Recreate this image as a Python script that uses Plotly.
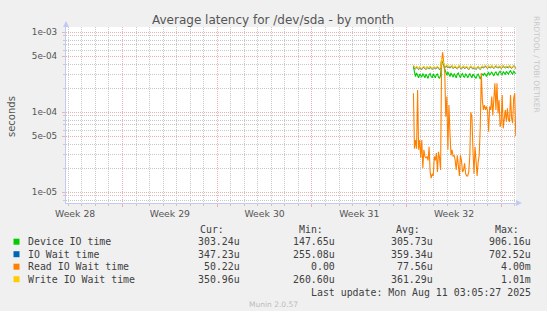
import plotly.graph_objects as go
import pandas as pd

# ---------------- data ----------------
series_names = ["Device IO time", "IO Wait time", "Read IO Wait time", "Write IO Wait time"]
series_colors = ["#00CC00", "#0066B3", "#FF8000", "#FFCC00"]

cur_vals = ["303.24u", "347.23u", "50.22u", "350.96u"]
min_vals = ["147.65u", "255.08u", "0.00", "260.60u"]
avg_vals = ["305.73u", "359.34u", "77.56u", "361.29u"]
max_vals = ["906.16u", "702.52u", "4.00m", "1.01m"]

week_labels = ["Week 28", "Week 29", "Week 30", "Week 31", "Week 32"]
week_mids = ["2025-07-09 12:00", "2025-07-16 12:00", "2025-07-23 12:00", "2025-07-30 12:00", "2025-08-06 12:00"]
week_bounds = ["2025-07-13", "2025-07-20", "2025-07-27", "2025-08-03", "2025-08-10"]
day_lines = ["2025-07-09", "2025-07-10", "2025-07-11", "2025-07-12",
             "2025-07-14", "2025-07-15", "2025-07-16", "2025-07-17", "2025-07-18", "2025-07-19",
             "2025-07-21", "2025-07-22", "2025-07-23", "2025-07-24", "2025-07-25", "2025-07-26",
             "2025-07-28", "2025-07-29", "2025-07-30", "2025-07-31", "2025-08-01", "2025-08-02",
             "2025-08-04", "2025-08-05", "2025-08-06", "2025-08-07", "2025-08-08", "2025-08-09",
             "2025-08-11"]

y_major_vals = [1e-5, 5e-5, 1e-4, 5e-4, 1e-3]
y_major_text = ["1e-05", "5e-05", "1e-04", "5e-04", "1e-03"]
y_minor_vals = [8e-6, 9e-6, 2e-5, 3e-5, 4e-5, 6e-5, 7e-5, 8e-5, 9e-5,
                2e-4, 3e-4, 4e-4, 6e-4, 7e-4, 8e-4, 9e-4]

# values in microseconds
device_us = [370, 300, 280, 310, 290, 270, 300, 285, 275, 305,
             290, 270, 300, 280, 265, 295, 305, 280, 270, 300,
             285, 270, 295, 300, 275, 265, 290,
             440, 420, 380, 340,
             310, 290, 320, 300, 280, 310, 295, 275, 305,
             290, 270, 300, 310, 285, 270, 295, 305, 280, 275,
             300, 290, 270, 295, 305, 285, 270, 300, 290, 275,
             265, 290, 300, 280, 260, 285, 300, 290, 310, 295,
             280, 305, 315, 290, 300, 320, 300, 285, 310, 320,
             300, 290, 315, 325, 305, 295, 320, 310, 300, 325,
             315, 300, 320, 330, 310, 300, 325, 315, 303]
iowait_us = [385, 355, 350, 368, 360, 345, 364, 355, 346, 360,
             368, 355, 346, 364, 360, 350, 368, 355, 346, 360,
             364, 350, 360, 368, 355, 346, 360,
             455, 430, 392, 374,
             368, 382, 364, 372, 360, 368, 378, 355, 364,
             372, 360, 350, 368, 378, 360, 350, 364, 372, 355,
             360, 368, 355, 346, 364, 372, 360, 350, 364, 355,
             346, 360, 368, 355, 346, 364, 372, 360, 368, 378,
             364, 355, 372, 368, 360, 378, 364, 355, 368, 378,
             364, 360, 372, 368, 355, 368, 378, 364, 360, 372,
             368, 360, 378, 364, 355, 368, 380, 372, 347]
read_us = [173, 35, 45, 35, 190, 34, 45, 27, 45, 20,
           34, 28, 27, 28, 25, 37, 18, 15, 17, 16,
           28, 25, 31, 18, 32, 27, 19, 450, 560, 410,
           310, 88, 157, 34, 123, 54, 29, 34, 28, 29,
           25, 19, 29, 22, 16, 29, 25, 18, 19, 23,
           17, 16, 16, 18, 29, 100, 88, 34, 17, 37,
           25, 16, 24, 29, 66, 310, 142, 107, 123, 107,
           118, 102, 57, 118, 107, 157, 92, 164, 230, 107,
           230, 97, 142, 66, 73, 164, 63, 84, 107, 76,
           112, 80, 76, 164, 84, 73, 149, 173, 50]
write_us = [390, 360, 355, 375, 365, 350, 370, 360, 350, 365,
            375, 360, 350, 370, 365, 355, 375, 360, 350, 365,
            370, 355, 365, 375, 360, 350, 365,
            470, 440, 400, 380,
            375, 390, 370, 380, 365, 375, 385, 360, 370,
            380, 365, 355, 375, 385, 365, 355, 370, 380, 360,
            365, 375, 360, 350, 370, 380, 365, 355, 370, 360,
            350, 365, 375, 360, 350, 370, 380, 365, 375, 385,
            370, 360, 380, 375, 365, 385, 370, 360, 375, 385,
            370, 365, 380, 375, 360, 375, 385, 370, 365, 380,
            375, 365, 385, 370, 360, 375, 380, 365, 351]

data_start = "2025-08-03 12:00"
data_end = "2025-08-11 01:30"
x_range = ["2025-07-08 19:48", "2025-08-11 01:55"]

# ---------------- layout geometry ----------------
W, H = 547, 311
L, R, T, B = 66, 516, 27, 203


def px(x):
    return (x - L) / (R - L)


def py(y):
    return (B - y) / (B - T)


RED = "#EDB0B0"
GRAY = "#C8C8C8"
AX = "#C3C8F5"
TXT = "#555555"
LEG = "#404040"
DOT = "1px,1px"

times = pd.date_range(data_start, data_end, periods=len(read_us))

fig = go.Figure()
all_series = [device_us, iowait_us, read_us, write_us]
for name, color, vals in zip(series_names, series_colors, all_series):
    fig.add_trace(go.Scatter(x=times, y=[v * 1e-6 for v in vals], mode="lines",
                             name=name, line=dict(color=color, width=1.1),
                             hoverinfo="skip"))
fig.add_trace(go.Scatter(x=[], y=[], xaxis="x2", yaxis="y", showlegend=False, hoverinfo="skip"))

ylo, yhi = -5.134, -2.934

fig.update_layout(
    width=W, height=H,
    margin=dict(l=L, r=W - R, t=T, b=H - B, pad=0),
    paper_bgcolor="#F0F0F0", plot_bgcolor="white", showlegend=False,
    font=dict(family="DejaVu Sans", color=TXT),
    # main x axis: daily minor grid (gray)
    xaxis=dict(type="date", range=x_range, tickmode="array", tickvals=day_lines,
               ticktext=[""] * len(day_lines), showgrid=True, gridcolor=GRAY,
               griddash=DOT, gridwidth=1, ticks="outside", ticklen=2, tickcolor=GRAY,
               showline=True, linecolor=AX, linewidth=1, zeroline=False),
    # overlay x axis: week labels
    xaxis2=dict(type="date", range=x_range, overlaying="x", anchor="y", side="bottom",
                tickmode="array", tickvals=week_mids, ticktext=week_labels,
                showgrid=False, ticks="", showline=False, zeroline=False,
                tickfont=dict(family="DejaVu Sans", size=9.3, color=TXT),
                ticklabelstandoff=4),
    # overlay x axis: weekly major grid (red)
    xaxis3=dict(type="date", range=x_range, overlaying="x", anchor="y", side="bottom",
                tickmode="array", tickvals=week_bounds, ticktext=[""] * len(week_bounds),
                showgrid=True, gridcolor=RED, griddash=DOT, gridwidth=1,
                ticks="outside", ticklen=3, tickcolor=RED, showline=False, zeroline=False),
    yaxis=dict(type="log", range=[ylo, yhi], tickmode="array", tickvals=y_minor_vals,
               ticktext=[""] * len(y_minor_vals), showgrid=True, gridcolor=GRAY, griddash=DOT,
               gridwidth=1, ticks="outside", ticklen=2, tickcolor=GRAY,
               showline=True, linecolor=AX, linewidth=1, zeroline=False),
    yaxis2=dict(type="log", range=[ylo, yhi], overlaying="y", anchor="x", side="left",
                tickmode="array", tickvals=y_major_vals, ticktext=y_major_text,
                showgrid=True, gridcolor=RED, griddash=DOT, gridwidth=1,
                ticks="outside", ticklen=3, tickcolor=RED, showline=False, zeroline=False,
                tickfont=dict(family="DejaVu Sans", size=8.8, color=TXT),
                ticklabelstandoff=3),
)
fig.add_trace(go.Scatter(x=[], y=[], xaxis="x3", yaxis="y", showlegend=False, hoverinfo="skip"))
fig.add_trace(go.Scatter(x=[], y=[], xaxis="x", yaxis="y2", showlegend=False, hoverinfo="skip"))

ann = []
ann.append(dict(x=px(273), y=py(20), xref="paper", yref="paper", text="Average latency for /dev/sda - by month",
                showarrow=False, xanchor="center", yanchor="middle",
                font=dict(family="DejaVu Sans", size=12, color=TXT)))
ann.append(dict(x=px(11), y=py(117), xref="paper", yref="paper", text="seconds", textangle=-90,
                showarrow=False, xanchor="center", yanchor="middle",
                font=dict(family="DejaVu Sans", size=10, color=TXT)))
ann.append(dict(x=px(537), y=py(64), xref="paper", yref="paper", text="RRDTOOL / TOBI OETIKER", textangle=90,
                showarrow=False, xanchor="center", yanchor="middle",
                font=dict(family="DejaVu Sans", size=7.5, color="#C8C8C8")))
ann.append(dict(x=px(66), y=py(21), xref="paper", yref="paper", ax=0, ay=7, axref="pixel", ayref="pixel",
                text="", showarrow=True, arrowhead=2, arrowsize=1, arrowwidth=1.2, arrowcolor=AX, standoff=0))
ann.append(dict(x=px(522), y=py(203), xref="paper", yref="paper", ax=-7, ay=0, axref="pixel", ayref="pixel",
                text="", showarrow=True, arrowhead=2, arrowsize=1, arrowwidth=1.2, arrowcolor=AX, standoff=0))

MONO = dict(family="DejaVu Sans Mono", size=9.9, color=LEG)
headers = ["Cur:", "Min:", "Avg:", "Max:"]
header_x = [225.5, 324.5, 422, 520.5]
col_x = [241.5, 336.7, 435, 533]
for h, hx in zip(headers, header_x):
    ann.append(dict(x=px(hx), y=py(229), xref="paper", yref="paper", text=h, showarrow=False,
                    xanchor="right", yanchor="middle", font=MONO))

row_y = [241.7, 254.2, 266.7, 279.2]
shapes = []
for i, name in enumerate(series_names):
    yy = row_y[i]
    shapes.append(dict(type="rect", xref="paper", yref="paper",
                       x0=px(13.5), x1=px(19.5), y0=py(yy + 3), y1=py(yy - 3),
                       fillcolor=series_colors[i], line=dict(width=0)))
    ann.append(dict(x=px(26), y=py(yy), xref="paper", yref="paper", text=name, showarrow=False,
                    xanchor="left", yanchor="middle", font=MONO))
    for cx, vals in zip(col_x, [cur_vals, min_vals, avg_vals, max_vals]):
        ann.append(dict(x=px(cx), y=py(yy), xref="paper", yref="paper", text=vals[i], showarrow=False,
                        xanchor="right", yanchor="middle", font=MONO))

ann.append(dict(x=px(533), y=py(292), xref="paper", yref="paper",
                text="Last update: Mon Aug 11 03:05:27 2025", showarrow=False,
                xanchor="right", yanchor="middle", font=MONO))
ann.append(dict(x=px(273), y=py(304.5), xref="paper", yref="paper", text="Munin 2.0.57", showarrow=False,
                xanchor="center", yanchor="middle",
                font=dict(family="DejaVu Sans", size=7.5, color="#BBBBBB")))

fig.update_layout(annotations=ann, shapes=shapes)
fig.write_html("out.html")
